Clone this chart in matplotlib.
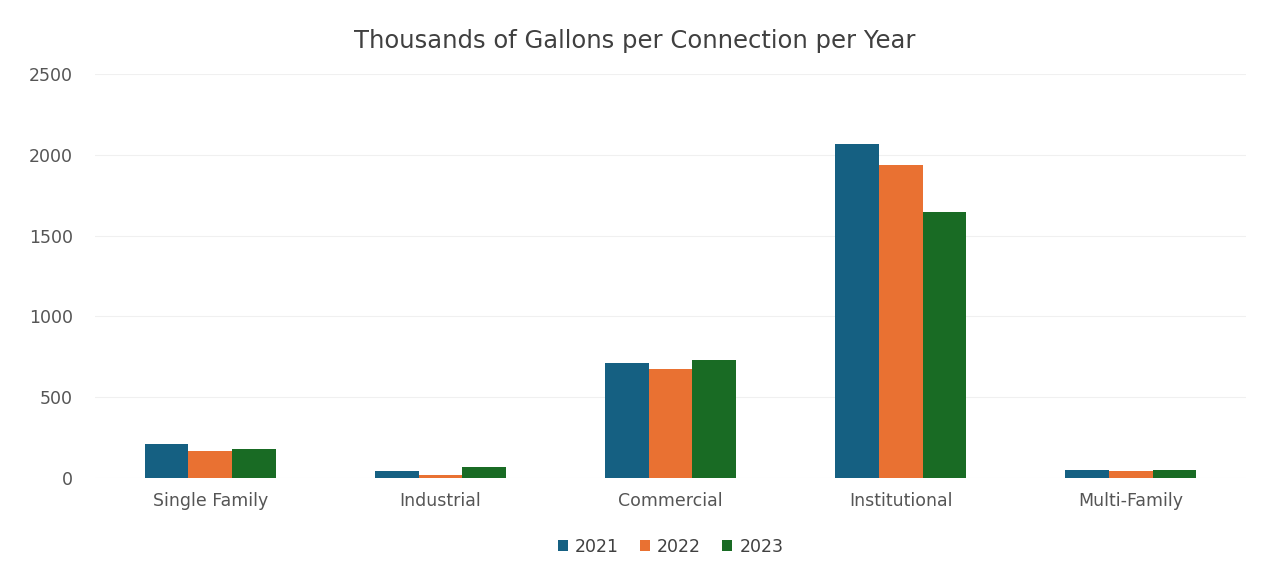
import numpy as np
import matplotlib
matplotlib.use("Agg")
import matplotlib.pyplot as plt

plt.rcParams["font.family"] = ["DejaVu Sans"]

categories = ["Single Family", "Industrial", "Commercial", "Institutional", "Multi-Family"]
years = ["2021", "2022", "2023"]
v2021 = [210, 40, 710, 2065, 50]
v2022 = [165, 15, 672, 1935, 40]
v2023 = [180, 65, 728, 1645, 50]
colors = ["#156082", "#E97132", "#196B24"]

fig = plt.figure(figsize=(12.7, 5.75), dpi=100)
ax = fig.add_axes([0.075, 0.169, 0.906, 0.702])

x = np.arange(len(categories))
w = 0.19
for i, (vals, lab, c) in enumerate(zip([v2021, v2022, v2023], years, colors)):
    ax.bar(x + (i - 1) * w, vals, width=w, color=c, label=lab, zorder=3)

ax.set_xlim(-0.5, len(categories) - 0.5)
ax.set_ylim(0, 2500)
ax.set_yticks(np.arange(0, 2501, 500))
ax.set_xticks(x)
ax.set_xticklabels(categories)
ax.tick_params(axis="both", length=0, labelsize=12.5, colors="#555555")
ax.tick_params(axis="y", pad=16)
ax.tick_params(axis="x", pad=10)
ax.grid(axis="y", color="#f0f0f0", lw=0.8, zorder=0)
for s in ax.spines.values():
    s.set_visible(False)

fig.suptitle("Thousands of Gallons per Connection per Year", y=0.95,
             fontsize=17.5, color="#404040")
ax.legend(loc="upper center", bbox_to_anchor=(0.5, -0.11), ncol=3, frameon=False,
          fontsize=12.5, handlelength=0.6, handleheight=0.6, columnspacing=1.2,
          handletextpad=0.4, labelcolor="#404040")

fig.savefig("out.png", dpi=100)
